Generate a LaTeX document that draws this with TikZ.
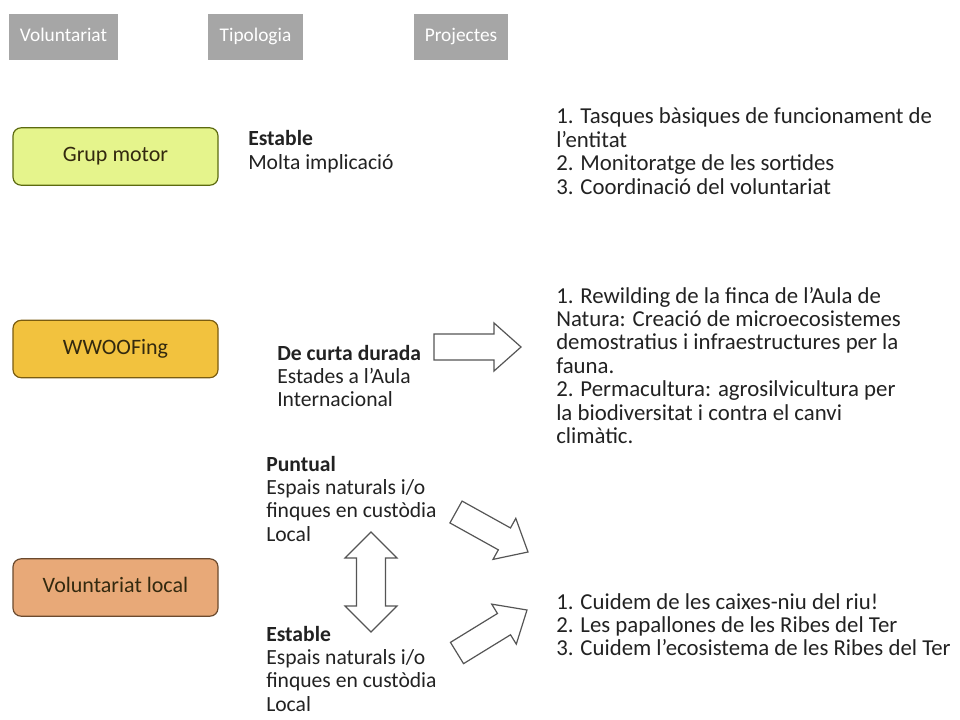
\documentclass[tikz,border=0pt]{standalone}
\usepackage{fontspec}
\setmainfont{Carlito}
\usetikzlibrary{calc}
\definecolor{hdrgray}{HTML}{A6A6A6}
\definecolor{gmfill}{HTML}{E5F48C}
\definecolor{gmline}{HTML}{5C6A10}
\definecolor{wwfill}{HTML}{F2C23E}
\definecolor{wwline}{HTML}{7A5C10}
\definecolor{vlfill}{HTML}{E8A978}
\definecolor{vlline}{HTML}{6B4A2E}
\definecolor{lbltext}{HTML}{33290F}
\definecolor{bodytext}{HTML}{222222}
\definecolor{arrline}{HTML}{555555}
\newcommand{\tblock}[1]{\begin{tabular}[t]{@{}l@{}}#1\end{tabular}}
\newcommand{\blockarrow}[4]{%
  \coordinate (h) at ($(#2)!20.25pt!(#1)$);
  \draw[barrow] ($(#1)!#3!90:(#2)$) -- ($(h)!#3!-90:(#1)$) -- ($(h)!#4!-90:(#1)$) -- (#2)
    -- ($(h)!#4!90:(#1)$) -- ($(h)!#3!90:(#1)$) -- ($(#1)!#3!-90:(#2)$) -- cycle;}
\begin{document}
\begin{tikzpicture}[x=0.75pt,y=-0.75pt,
  hdr/.style={fill=hdrgray, text=white, minimum height=34.5pt, inner sep=0pt,
    text height=10pt, text depth=3pt, font=\fontsize{14.5}{16}\selectfont},
  vbox/.style={draw, line width=0.9pt, rounded corners=6pt, minimum width=153.75pt,
    minimum height=43pt, text=lbltext, text height=11pt, text depth=3pt,
    font=\fontsize{16.5}{18}\selectfont},
  body/.style={anchor=base west, inner sep=0pt, text=bodytext,
    font=\fontsize{16.2}{17.6}\selectfont},
  proj/.style={body, font=\fontsize{17.1}{17.6}\selectfont},
  barrow/.style={draw=arrline, line width=0.9pt, fill=white, line join=miter}]
\useasboundingbox (0,0) rectangle (960,720);
\fill[white] (0,0) rectangle (960,720);
% headers
\node[hdr, minimum width=81.75pt] (h1) at (63.5,37) {Voluntariat};
\node[hdr, minimum width=71.25pt] (h2) at (255.5,37) {Tipologia};
\node[hdr, minimum width=70.5pt] (h3) at (461,37) {Projectes};
% left boxes
\node[vbox, fill=gmfill, draw=gmline] (gm) at (115.5,156.5) {Grup motor};
\node[vbox, fill=wwfill, draw=wwline] (ww) at (115.5,349) {WWOOFing};
\node[vbox, fill=vlfill, draw=vlline] (vl) at (115.5,587.5) {Voluntariat local};
% typology texts
\node[body] (t1) at (248,146) {\tblock{\textbf{Estable}\\Molta implicació}};
\node[body] (t2) at (277,360) {\tblock{\textbf{De curta durada}\\Estades a l’Aula\\Internacional}};
\node[body] (t3) at (266,471) {\tblock{\textbf{Puntual}\\Espais naturals i/o\\finques en custòdia\\Local}};
\node[body] (t4) at (266,641) {\tblock{\textbf{Estable}\\Espais naturals i/o\\finques en custòdia\\Local}};
% projects texts
\node[proj] (p1) at (556,124) {\tblock{1. Tasques bàsiques de funcionament de\\l’entitat\\2. Monitoratge de les sortides\\3. Coordinació del voluntariat}};
\node[proj] (p2) at (556,303) {\tblock{1. Rewilding de la finca de l’Aula de\\Natura: Creació de microecosistemes\\demostratius i infraestructures per la\\fauna.\\2. Permacultura: agrosilvicultura per\\la biodiversitat i contra el canvi\\climàtic.}};
\node[proj] (p3) at (556,609) {\tblock{1. Cuidem de les caixes-niu del riu!\\2. Les papallones de les Ribes del Ter\\3. Cuidem l’ecosistema de les Ribes del Ter}};
% block arrows
\coordinate (a1t) at (434,347);
\coordinate (a1p) at (521,347);
\blockarrow{a1t}{a1p}{9.75pt}{18pt}
\coordinate (a2t) at (456,512);
\coordinate (a2p) at (528,552);
\blockarrow{a2t}{a2p}{9.375pt}{17.6pt}
\coordinate (a3t) at (457,653);
\coordinate (a3p) at (527,610);
\blockarrow{a3t}{a3p}{9.375pt}{17.6pt}
% double arrow
\coordinate (dtop) at (371,532);
\coordinate (dbot) at (371,632);
\draw[barrow] (dtop) -- (397,558) -- (385.5,558) -- (385.5,606) -- (397,606) -- (dbot)
  -- (345,606) -- (356.5,606) -- (356.5,558) -- (345,558) -- cycle;
\end{tikzpicture}
\end{document}
